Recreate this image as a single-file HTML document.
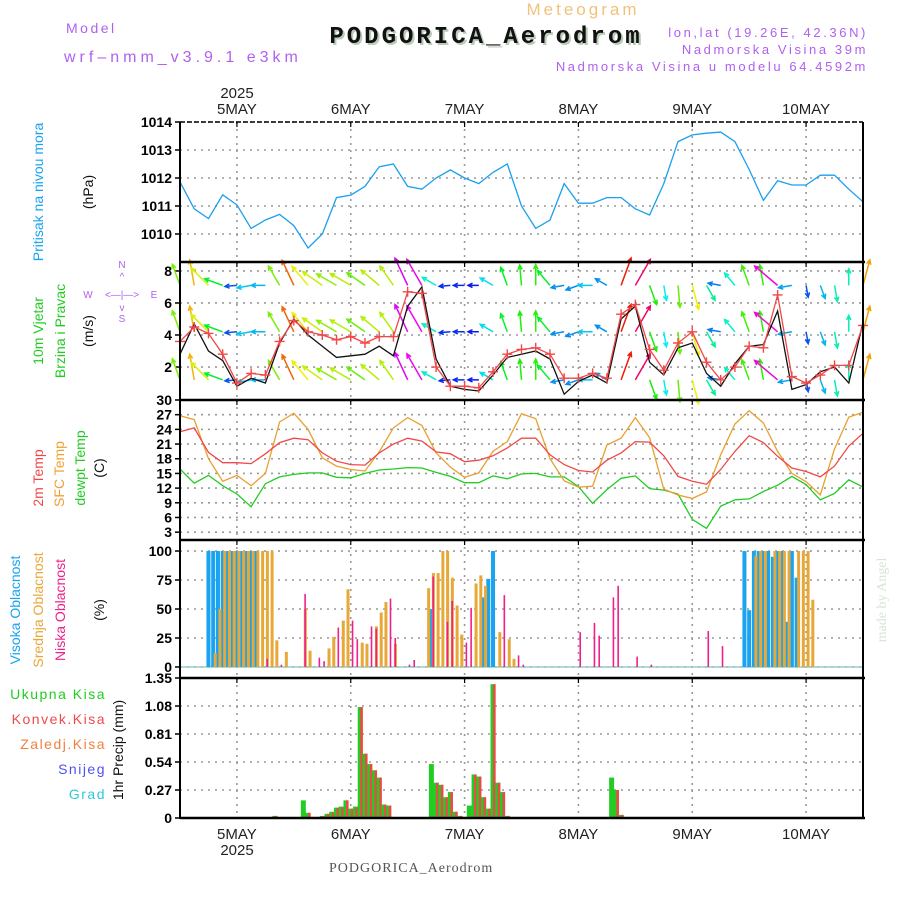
<!DOCTYPE html>
<html><head><meta charset="utf-8">
<style>
html,body{margin:0;padding:0;background:#fff;}
svg{display:block;font-family:"Liberation Sans",sans-serif;}
</style></head>
<body>
<svg id="chart" width="900" height="900" viewBox="0 0 900 900" xmlns="http://www.w3.org/2000/svg">
  <rect x="0" y="0" width="900" height="900" fill="#fff"/>
  <!-- header -->
  <text x="583" y="15" font-size="17" fill="#f2c27a" text-anchor="middle" letter-spacing="3">Meteogram</text>
  <text x="66" y="33" font-size="14" fill="#b060f0" letter-spacing="2.5">Model</text>
  <text x="64" y="62" font-size="16" fill="#b060f0" letter-spacing="4">wrf–nmm_v3.9.1 e3km</text>
  <text x="488" y="45" font-size="24" font-weight="bold" font-family="Liberation Mono, monospace" fill="#b8ccb8" text-anchor="middle" letter-spacing="3">PODGORICA_Aerodrom</text>
  <text x="486" y="43" font-size="24" font-weight="bold" font-family="Liberation Mono, monospace" fill="#111" text-anchor="middle" letter-spacing="3">PODGORICA_Aerodrom</text>
  <text x="868" y="37" font-size="13" fill="#b060f0" text-anchor="end" letter-spacing="2.6">lon,lat (19.26E, 42.36N)</text>
  <text x="868" y="54" font-size="13" fill="#b060f0" text-anchor="end" letter-spacing="2.6">Nadmorska Visina 39m</text>
  <text x="868" y="71" font-size="13" fill="#b060f0" text-anchor="end" letter-spacing="2.6">Nadmorska Visina u modelu 64.4592m</text>
  <text x="237" y="98" font-size="15" fill="#222" text-anchor="middle">2025</text>
  <text x="329" y="872" font-size="14" fill="#555" font-family="Liberation Serif, serif" letter-spacing="1">PODGORICA_Aerodrom</text>
  <text x="237" y="855" font-size="15" fill="#222" text-anchor="middle">2025</text>
  <text transform="translate(886,600) rotate(-90)" font-size="14" fill="#d8e4d8" text-anchor="middle" font-family="Liberation Serif, serif">made by Angel</text>

  <!-- left axis titles -->
  <g font-size="14">
    <text transform="translate(43,192) rotate(-90)" fill="#1aa3f0" text-anchor="middle">Pritisak na nivou mora</text>
    <text transform="translate(93,192) rotate(-90)" fill="#111" text-anchor="middle">(hPa)</text>
    <text transform="translate(43,331) rotate(-90)" fill="#22cc22" text-anchor="middle">10m Vjetar</text>
    <text transform="translate(65,331) rotate(-90)" fill="#22cc22" text-anchor="middle">Brzina i Pravac</text>
    <text transform="translate(93,331) rotate(-90)" fill="#111" text-anchor="middle">(m/s)</text>
    <text transform="translate(43,478) rotate(-90)" fill="#f04848" text-anchor="middle">2m Temp</text>
    <text transform="translate(64,474) rotate(-90)" fill="#f0a030" text-anchor="middle">SFC Temp</text>
    <text transform="translate(85,468) rotate(-90)" fill="#22cc22" text-anchor="middle">dewpt Temp</text>
    <text transform="translate(104,468) rotate(-90)" fill="#111" text-anchor="middle">(C)</text>
    <text transform="translate(20,610) rotate(-90)" fill="#1aa3f0" text-anchor="middle">Visoka Oblacnost</text>
    <text transform="translate(43,610) rotate(-90)" fill="#e8a838" text-anchor="middle">Srednja Oblacnost</text>
    <text transform="translate(65,610) rotate(-90)" fill="#f0208a" text-anchor="middle">Niska Oblacnost</text>
    <text transform="translate(104,610) rotate(-90)" fill="#111" text-anchor="middle">(%)</text>
    <text x="106" y="699" fill="#22cc22" text-anchor="end" letter-spacing="1.5">Ukupna  Kisa</text>
    <text x="106" y="724" fill="#f04848" text-anchor="end" letter-spacing="1.5">Konvek.Kisa</text>
    <text x="106" y="749" fill="#f08040" text-anchor="end" letter-spacing="1.5">Zaledj.Kisa</text>
    <text x="106" y="774" fill="#5050f0" text-anchor="end" letter-spacing="1.5">Snijeg</text>
    <text x="106" y="799" fill="#30c8d8" text-anchor="end" letter-spacing="1.5">Grad</text>
    <text transform="translate(123,750) rotate(-90)" fill="#111" text-anchor="middle">1hr Precip (mm)</text>
  </g>
  <!-- compass -->
  <g font-size="10" fill="#b060f0">
    <text x="122" y="268" text-anchor="middle">N</text>
    <text x="122" y="280" text-anchor="middle">^</text>
    <text x="122" y="298" text-anchor="middle">&lt;—|—&gt;</text>
    <text x="88" y="298" text-anchor="middle">W</text>
    <text x="154" y="298" text-anchor="middle">E</text>
    <text x="122" y="311" text-anchor="middle">v</text>
    <text x="122" y="322" text-anchor="middle">S</text>
  </g>
  <g id="plot"></g>
</svg>
<script>
// ---------- data ----------
const dayLabels = ["5MAY","6MAY","7MAY","8MAY","9MAY","10MAY"];
const pressureTicks = [1010,1011,1012,1013,1014];
const windTicks = [2,4,6,8];
const tempTicks = [3,6,9,12,15,18,21,24,27,30];
const cloudTicks = [0,25,50,75,100];
const precipTicks = ["0","0.27","0.54","0.81","1.08","1.35"];
// 3-hourly series starting 4 May 12Z
const pressure = [1011.86,1010.9,1010.55,1011.4,1011.04,1010.2,1010.5,1010.7,1010.3,1009.5,1010.0,1011.3,1011.39,1011.7,1012.4,1012.5,1011.7,1011.6,1012.0,1012.29,1012.0,1011.8,1012.2,1012.5,1011.0,1010.2,1010.5,1011.8,1011.1,1011.1,1011.3,1011.3,1010.9,1010.68,1011.8,1013.3,1013.54,1013.6,1013.64,1013.3,1012.3,1011.2,1011.9,1011.75,1011.75,1012.1,1012.1,1011.6,1011.15];
const temp2m = [23.5,24.3,19.3,17.2,17.2,17,19,21.3,22.2,21.9,19.2,17.5,16.8,16.7,19.2,21,22.2,21.6,19.4,19,17.4,17.7,18.6,20.2,22.2,22.2,18.8,16.8,15.6,15.3,17.7,19.2,21.5,21.4,18.6,14.4,13.4,12.8,15.8,19.5,22.7,21.3,18.5,16.1,15.4,14.3,16.5,20.6,23.2];
const tempSfc = [26.8,26,18,13.4,14.6,12.5,15,25.5,27.3,24,18.2,16.5,15.8,15.5,19.4,24.3,26.4,24.8,19.2,16.3,14.2,15.1,19.5,21.5,27.2,26.2,18,13.5,12.2,12.4,20.8,22.2,26.4,22.3,11.8,10.6,9.9,11.2,18.8,25.1,27.8,25.3,19.5,15,13.3,10.6,20,26.5,27.5];
const tempDew = [15.9,13,14.6,12.5,10.8,8.2,12.9,14.3,14.8,15.1,15.1,14.2,14.1,15,15.7,15.9,16.2,16.1,15.2,14.4,13.1,13.1,14.5,13.9,14.9,15,14.3,14.3,12.3,8.9,11.7,14,14.5,11.9,11.6,10.8,5.6,3.8,8.3,9.6,9.8,11.3,12.6,14.4,12.7,9.6,10.9,13.7,12.2];
const windSpeed = [3.6,4.5,4.1,2.8,1.0,1.6,1.5,3.6,4.9,4.2,4.0,3.7,3.9,3.5,3.9,3.9,6.7,6.6,2.0,0.8,0.8,0.7,1.7,2.8,3.1,3.2,2.8,1.3,1.3,1.6,1.3,5.3,5.9,3.1,1.8,3.5,4.2,2.3,1.2,2.0,3.3,3.2,6.5,1.4,1.0,1.5,2.1,2.1,4.6];
const windGust = [2.8,4.7,3.0,2.4,0.8,1.3,1.0,3.5,5.0,4.0,3.3,2.6,2.7,2.8,3.3,2.7,5.8,7.0,2.5,0.8,0.6,0.5,1.5,2.6,2.8,3.0,2.5,0.3,1.1,1.5,1.0,5.0,5.8,2.3,1.5,3.2,3.5,1.6,0.8,2.2,3.3,3.4,5.5,0.6,0.9,1.7,2.0,1.0,4.8];
const windDir = [-20,-10,-45,-70,-95,-100,-90,-30,-25,-40,-55,-60,-60,-55,-50,-35,-25,-30,-60,-95,-90,-90,-60,-20,-5,0,-40,-100,-110,-90,-60,20,30,160,170,175,165,150,-80,-40,-20,-10,-50,-100,170,160,170,0,15];
// hourly cloud bars (hour since 4 May 12Z)
const highHours = [6,7,8,9,10,11,12,13,14,15,16,53,64,65,66,119,120,121,122,123,124,125,126,127,128,129,130];
const highVals  = [100,100,100,100,100,100,100,100,100,100,100,50,60,76,100,100,49,100,100,100,100,95,100,100,39,100,77];
const midHours = [7,8,9,10,11,12,13,14,15,16,17,18,19,20,22,26,27,31,32,34,35,38,39,41,42,43,45,52,53,54,55,56,57,58,59,62,63,64,67,69,70,121,122,123,125,126,127,128,130,131,132,133];
const midVals  = [12,50,100,100,100,100,100,100,100,100,100,100,100,23,13,50,14,16,26,40,67,21,20,35,47,56,20,68,81,81,100,100,77,53,28,72,79,70,30,24,7,96,100,100,100,100,100,100,100,100,100,58];
const lowHours = [18,21,26,29,30,33,36,37,40,41,44,45,48,49,53,56,57,60,61,68,71,72,84,87,88,91,92,96,99,111,114];
const lowVals  = [7,2,63,8,5,34,40,24,35,33,59,25,2,6,78,39,57,21,51,62,10,2,30,38,27,60,70,9,2,31,18];
// hourly precipitation
const precipHours = [20,26,27,30,31,32,33,34,35,36,37,38,39,40,41,42,43,44,53,54,55,56,57,58,59,60,61,62,63,64,65,66,67,68,69,91,92,93];
const precipTotal = [0.02,0.17,0.05,0.02,0.04,0.06,0.1,0.11,0.17,0.09,0.11,1.07,0.62,0.52,0.46,0.39,0.13,0.12,0.52,0.34,0.32,0.2,0.25,0.06,0.02,0.01,0.12,0.42,0.4,0.2,0.09,1.29,0.34,0.25,0.02,0.39,0.27,0.03];
const precipConv  = [0.02,0,0.05,0.02,0.04,0.05,0.1,0.1,0.17,0.09,0.1,1.07,0.62,0.52,0.46,0.39,0.13,0.12,0,0.34,0.32,0.2,0.25,0.06,0.02,0.01,0,0.42,0.4,0.2,0.09,1.29,0.34,0.25,0.02,0,0.27,0.03];

// ---------- layout ----------
const NS = "http://www.w3.org/2000/svg";
const X0 = 180, X1 = 863, HOURS = 144, STEP = 3;
const xh = h => X0 + h * (X1 - X0) / HOURS;
const panels = {
  p: {top:122, bot:262, min:1009, max:1014},
  w: {top:262, bot:400, min:-0.06, max:8.56},
  t: {top:400, bot:540, min:1.4, max:30},
  c: {top:540, bot:678, min:-9.5, max:109.5},
  r: {top:678, bot:818, min:0, max:1.35}
};
function yv(pn, v){ const P = panels[pn]; return P.bot - (v - P.min) / (P.max - P.min) * (P.bot - P.top); }
const root = document.getElementById('plot');
function mk(tag, attrs, parent){
  const e = document.createElementNS(NS, tag);
  for (const k in attrs) e.setAttribute(k, attrs[k]);
  (parent || root).appendChild(e);
  return e;
}
function grp(name){
  const g = mk('g', {});
  
  
  return g;
}

// ---------- grids & axes ----------
const gridG = grp('grid-lines');
const dayX = dayLabels.map((d,i) => xh(12 + 24*i));
Object.keys(panels).forEach(pn => {
  const P = panels[pn];
  dayX.forEach(x => {
    const l = mk('line', {x1:x, x2:x, y1:P.top, y2:P.bot, stroke:'#999', 'stroke-width':1.6, 'stroke-dasharray':'2,5'}, gridG);
    
    
  });
});
function hTicks(pn, ticks, name){
  const g = grp(name);
  ticks.forEach(t => {
    const v = parseFloat(t), y = yv(pn, v);
    const gl = mk('line', {x1:X0, x2:X1, y1:y, y2:y, stroke:'#999', 'stroke-width':1.6, 'stroke-dasharray':'2,5'}, gridG);
    
    
    const tk = mk('line', {x1:X0-5, x2:X0, y1:y, y2:y, stroke:'#000', 'stroke-width':1.5}, g);
    
    
    const tx = mk('text', {x:X0-8, y:y+5, 'font-size':14, 'text-anchor':'end', fill:'#000', 'font-weight':'bold'}, g);
    tx.textContent = t;
    
    
  });
}
hTicks('p', pressureTicks, 'pressure-axis');
hTicks('w', windTicks, 'wind-axis');
hTicks('t', tempTicks, 'temp-axis');
hTicks('c', cloudTicks, 'cloud-axis');
hTicks('r', precipTicks, 'precip-axis');

// day labels
const dl = grp('day-labels');
dayLabels.forEach((d,i) => {
  const a = mk('text', {x:dayX[i], y:114, 'font-size':15, 'text-anchor':'middle', fill:'#222'}, dl);
  a.textContent = d;
  
  
  const b = mk('text', {x:dayX[i], y:839, 'font-size':15, 'text-anchor':'middle', fill:'#222'}, dl);
  b.textContent = d;
  
  
});

// ---------- pressure ----------
function line(pn, arr, color, name, w){
  const pts = arr.map((v,i) => xh(i*STEP).toFixed(1) + ',' + yv(pn, v).toFixed(1)).join(' ');
  const pl = mk('polyline', {points:pts, fill:'none', stroke:color, 'stroke-width':w || 1.3});
  
  
  return pl;
}
line('p', pressure, '#1a9ff0', 'pressure-line');

// ---------- wind ----------
const arrowG = grp('wind-arrows');
const rowBases = [7.1, 4.2, 1.2];
function windColor(s){ let h = 270 - s*50; if (h < 0) h += 360; return 'hsl(' + h + ',95%,48%)'; }
rowBases.forEach(base => {
  windDir.forEach((d,i) => {
    const s = windSpeed[i];
    const len = Math.min(30, 8 + s*4);
    const x = xh(i*STEP), y = yv('w', base);
    const a = d * Math.PI / 180;
    const x2 = x + Math.sin(a)*len, y2 = y - Math.cos(a)*len;
    const c = windColor(s);
    const ha = 5, back = a + Math.PI;
    const p1x = x2 + Math.sin(back - 0.45)*ha, p1y = y2 - Math.cos(back - 0.45)*ha;
    const p2x = x2 + Math.sin(back + 0.45)*ha, p2y = y2 - Math.cos(back + 0.45)*ha;
    const path = mk('path', {d:'M'+x+','+y+'L'+x2+','+y2+'M'+p1x+','+p1y+'L'+x2+','+y2+'L'+p2x+','+p2y, stroke:c, 'stroke-width':1.5, fill:'none'}, arrowG);
    
    
  });
});
line('w', windGust, '#111', 'wind-black-line', 1.3);
line('w', windSpeed, '#f04848', 'wind-speed-line', 1.3);
const markG = grp('wind-speed-markers');
windSpeed.forEach((v,i) => {
  const x = xh(i*STEP), y = yv('w', v);
  const m = mk('path', {d:'M'+(x-5)+','+y+'H'+(x+5)+'M'+x+','+(y-5)+'V'+(y+5), stroke:'#f04848', 'stroke-width':1.4}, markG);
  
  
});

// ---------- temperature ----------
line('t', tempDew, '#22cc22', 'dewpoint-line');
line('t', tempSfc, '#e8a030', 'sfc-temp-line');
line('t', temp2m, '#f04848', '2m-temp-line');

// ---------- cloud ----------
const cb = grp('cloud-bars');
const zeroY = yv('c', 0);
const base = mk('line', {x1:X0, x2:X1, y1:zeroY, y2:zeroY, stroke:'#9cc', 'stroke-width':1.5}, cb);


function bars(hours, vals, color, w, off, name){
  hours.forEach((h,i) => {
    const y = yv('c', vals[i]);
    const r = mk('rect', {x:xh(h)+off, y:y, width:w, height:zeroY-y, fill:color}, cb);
    
    
  });
}
bars(highHours, highVals, '#1aa3f0', 4, -2, 'high-cloud-bar');
bars(midHours, midVals, '#e8a838', 3, 0.5, 'mid-cloud-bar');
bars(lowHours, lowVals, '#f0208a', 1.6, 1, 'low-cloud-bar');

// ---------- precip ----------
const pb = grp('precip-bars');
const pz = yv('r', 0);
precipHours.forEach((h,i) => {
  const yt = yv('r', precipTotal[i]);
  const g = mk('rect', {x:xh(h)-2.5, y:yt, width:5, height:pz-yt, fill:'#22cc22'}, pb);
  
  
  if (precipConv[i] > 0) {
    const yc = yv('r', precipConv[i]);
    const c = mk('rect', {x:xh(h), y:yc, width:2.6, height:pz-yc, fill:'#f04848'}, pb);
    
    
  }
});

// ---------- frames ----------
const fr = grp('panel-frames');
const t1 = mk('line', {x1:X0, x2:X1, y1:122, y2:122, stroke:'#000', 'stroke-width':1.5, 'stroke-dasharray':'5,2'}, fr);


[262,400,540,678,818].forEach(y => {
  const l = mk('line', {x1:X0, x2:X1+2, y1:y, y2:y, stroke:'#000', 'stroke-width':2.5}, fr);
  
  
});
[X0, X1].forEach(x => {
  const l = mk('line', {x1:x, x2:x, y1:122, y2:819, stroke:'#000', 'stroke-width':2}, fr);
  
  
});
Object.keys(panels).forEach(pn => {
  dayX.forEach(x => {
    const l = mk('line', {x1:x, x2:x, y1:panels[pn].top, y2:panels[pn].top+5, stroke:'#000', 'stroke-width':1.2}, fr);
    
    
  });
});
</script>
</body></html>
